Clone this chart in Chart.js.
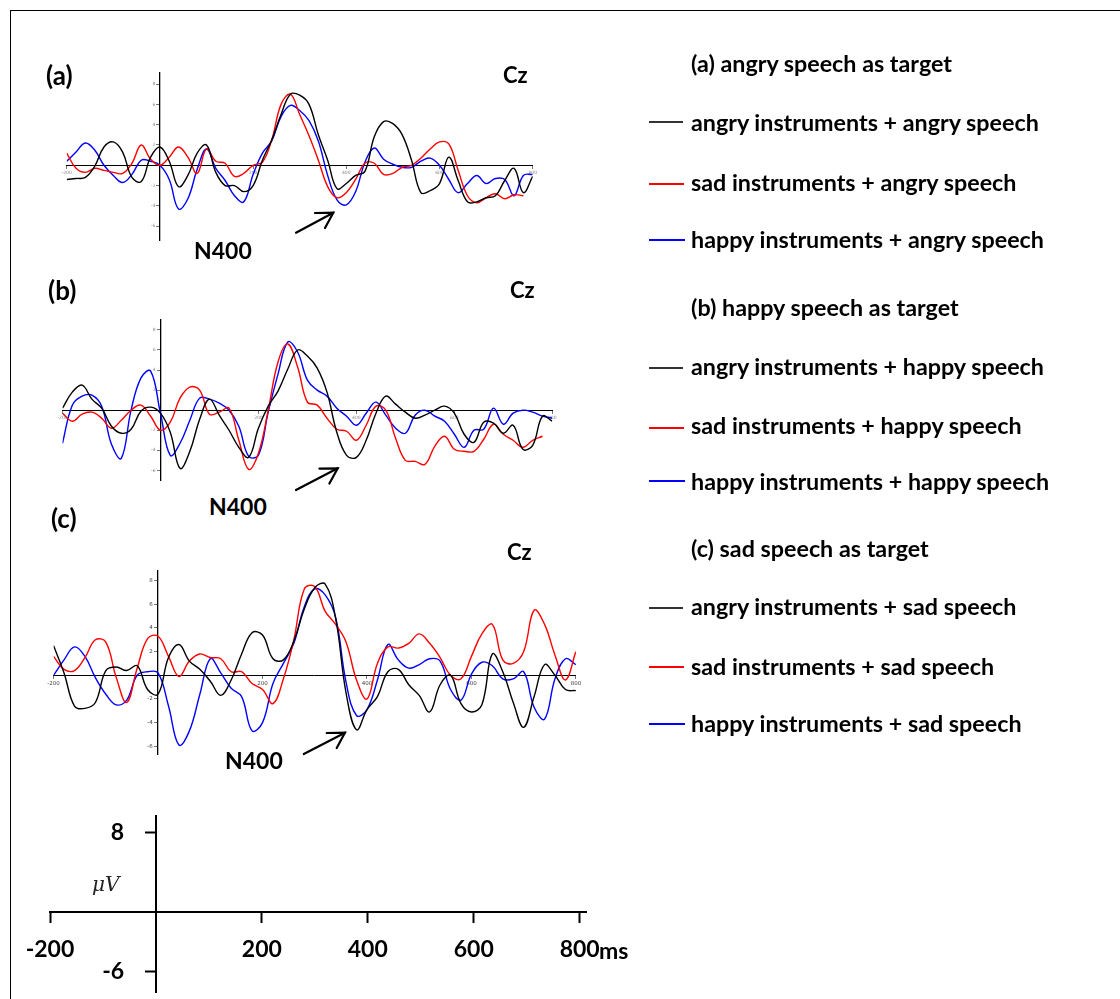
<!DOCTYPE html>
<html>
<head>
<meta charset="utf-8">
<script src="https://cdn.jsdelivr.net/npm/chart.js@4.4.1/dist/chart.umd.min.js"></script>
<style>
  html, body { margin: 0; padding: 0; background: #fff; }
  body { width: 1120px; height: 999px; position: relative; overflow: hidden;
         font-family: Lato, "Open Sans", sans-serif; font-weight: bold; color: #000; }
  .frame { position: absolute; left: 10px; top: 10px; width: 1200px; height: 1100px;
           border-left: 1.5px solid #000; border-top: 1.5px solid #000; }
  canvas { position: absolute; left: 0; }
  .t { position: absolute; white-space: nowrap; line-height: 1; transform: translateY(-50%); }
  .sw { position: absolute; height: 2px; }
  svg { position: absolute; left: 0; top: 0; }
</style>
</head>
<body>
<div class="frame"></div>
<canvas id="panelA" width="600" height="190" style="top:60px"></canvas>
<canvas id="panelB" width="600" height="180" style="top:310px"></canvas>
<canvas id="panelC" width="600" height="205" style="top:560px"></canvas>
<canvas id="scaleBar" width="600" height="199" style="top:800px"></canvas>

<div class="t" style="left:46px;top:75px;font-size:26px">(a)</div>
<div class="t" style="left:48px;top:290px;font-size:26px">(b)</div>
<div class="t" style="left:51px;top:518px;font-size:26px">(c)</div>
<div class="t" style="left:503px;top:75px;font-size:22px">Cz</div>
<div class="t" style="left:510px;top:290px;font-size:22px">Cz</div>
<div class="t" style="left:507px;top:552px;font-size:22px">Cz</div>
<div class="t" style="left:194px;top:250px;font-size:23px">N400</div>
<div class="t" style="left:209px;top:506px;font-size:23px">N400</div>
<div class="t" style="left:225px;top:760px;font-size:23px">N400</div>
<div class="t" style="left:92px;top:884px;font-size:20px;font-family:'DejaVu Serif',serif;font-style:italic;font-weight:normal;color:#222">&mu;V</div>
<div class="t" style="left:599px;top:950px;font-size:23px">ms</div>

<svg width="1120" height="999">
  <g stroke="#000" stroke-width="2.2" fill="none" stroke-linecap="round">
    <line x1="296" y1="232.7" x2="333.3" y2="212.7"/>
    <polyline points="315,213 333.3,212.7 325,228"/>
    <line x1="296" y1="490" x2="337.7" y2="468.3"/>
    <polyline points="319.4,468.6 337.7,468.3 329.4,483.6"/>
    <line x1="303.8" y1="754" x2="345" y2="732.7"/>
    <polyline points="326.7,733 345,732.7 336.7,748"/>
  </g>
</svg>

<div id="legend"></div>

<script>
// time axis (ms), one sample every 20 ms
var times = [-200,-180,-160,-140,-120,-100,-80,-60,-40,-20,0,20,40,60,80,100,120,140,160,180,
             200,220,240,260,280,300,320,340,360,380,400,420,440,460,480,500,520,540,560,580,
             600,620,640,660,680,700,720,740,760,780,800];

var xTicks = [-200, 200, 400, 600, 800];
var yTicks = [-6, -4, -2, 2, 4, 6, 8];
var scaleXTicks = [-200, 200, 400, 600, 800];
var scaleYTicks = [-6, 8];

// (a) angry speech as target (uV)
var angryA = [-1.4,-1.3,-1.2,-0.1,1.8,2.3,1.3,-1.2,-1.6,0.8,1.8,0.4,-2.1,-1.0,1.2,2.0,-0.7,-2.0,-2.0,-2.6,
              -2.0,0.5,2.5,5.0,7.0,6.9,6.0,3.0,0.5,-2.3,-1.8,-1.0,-0.6,2.8,4.3,4.1,3.0,0.5,-2.7,-2.5,
              -1.8,0.8,-1.5,-3.6,-3.6,-3.2,-3.0,-1.5,-0.3,-2.7,-1.1];
var sadA   = [1.2,-0.3,-0.7,-0.3,-0.5,-0.7,-0.8,0.2,2.0,0.6,0.0,0.8,1.8,0.8,-0.8,1.6,0.4,0.2,-1.1,-0.8,
              0.0,0.3,2.5,6.0,7.0,5.0,2.9,0.5,-2.1,-3.2,-2.7,-1.4,0.2,0.2,-0.9,-0.8,-0.2,0.0,0.7,1.6,
              2.3,2.1,-0.5,-3.0,-3.7,-3.2,-2.8,-3.3,-2.9,-3.0,null];
var happyA = [0.4,1.3,2.2,1.5,0.0,-1.0,-1.7,-0.9,0.5,0.4,0.0,-1.4,-4.3,-3.3,-0.4,1.6,-0.3,-1.5,-3.0,-3.6,
              -0.9,1.2,2.4,4.8,5.9,5.4,4.4,2.4,-1.0,-3.4,-3.9,-2.6,0.3,1.7,0.6,0.1,-0.2,-0.2,0.4,0.7,
              0.0,-1.4,-2.7,-1.8,-1.0,-1.8,-1.3,-1.4,-3.0,-1.0,-0.9];

// (b) happy speech as target
var angryB = [0.2,1.8,2.5,1.1,0.2,-1.6,-2.3,-1.9,-0.1,0.3,-0.3,-2.2,-5.8,-4.1,-0.9,1.1,-0.5,-2.0,-3.7,-4.7,
              -1.8,0.4,1.9,4.1,6.0,5.4,4.2,1.8,-2.2,-4.5,-4.7,-3.0,-0.3,1.4,0.6,-0.2,-0.8,-0.5,0.0,0.4,
              -0.3,-2.4,-3.2,-1.2,-1.3,-2.3,-1.5,-3.9,-3.5,-0.6,-1.1];
var sadB   = [-0.3,-1.1,-0.4,-0.2,-0.8,-1.8,-1.0,0.0,0.5,-0.6,-2.0,-1.2,1.2,2.3,2.0,-0.4,-0.2,0.2,-3.0,-5.9,
              -4.3,0.0,4.8,6.6,4.3,0.8,0.5,-0.8,-1.9,-2.1,-3.0,-1.5,0.4,0.0,-2.8,-5.0,-5.1,-5.4,-3.6,-2.6,
              -3.9,-4.1,-4.1,-2.9,-1.4,-2.4,-3.0,-3.7,-3.0,-2.6,null];
var happyB = [-3.3,0.5,1.4,1.5,0.4,-3.4,-4.8,0.0,3.2,3.9,-0.3,-4.5,-3.3,-1.0,1.2,1.1,0.7,0.0,-1.6,-4.6,
              -4.5,-0.2,3.6,6.8,5.8,3.0,2.0,1.4,0.2,-0.6,-1.5,-0.3,0.8,-0.5,-1.8,-2.3,-0.5,0.0,-0.6,-1.1,
              -2.4,-3.7,-2.0,-1.9,0.2,-1.4,-0.3,0.0,-0.2,-0.6,-0.8];

// (c) sad speech as target
var angryC = [2.5,0.2,-2.6,-2.8,-2.3,0.4,0.7,0.4,0.8,-1.2,-1.6,1.5,2.6,1.2,0.5,-0.5,-1.7,-0.4,1.8,3.6,
              3.4,1.4,1.3,2.9,5.6,7.4,7.7,4.8,-1.5,-4.6,-2.9,-1.8,0.3,0.5,-0.8,-1.7,-3.1,-0.8,0.0,-2.4,
              -3.1,-2.5,1.8,0.3,-2.3,-4.4,-1.8,0.9,0.0,-1.2,-1.3];
var sadC   = [1.6,0.5,0.4,1.5,3.0,2.8,-0.2,-2.3,0.6,3.1,3.3,1.6,-0.1,1.2,1.8,1.5,1.4,0.3,0.3,-0.7,
              -1.2,-2.4,-0.3,3.0,7.3,7.5,5.4,4.3,2.8,-0.4,-2.0,1.0,2.4,2.3,2.7,3.5,2.7,1.5,0.0,-0.3,
              1.6,3.5,4.3,1.3,1.0,2.0,5.5,4.3,1.7,-0.4,2.0];
var happyC = [0.0,1.3,2.4,1.6,-0.2,-1.6,-2.5,-2.1,0.0,0.3,0.2,-2.6,-5.9,-4.7,-1.6,1.4,0.2,-1.1,-1.8,-4.7,
              -4.0,-0.7,1.0,2.7,5.8,7.3,6.8,4.9,-0.6,-3.4,-2.9,-0.4,2.6,1.3,0.6,0.9,1.4,1.2,-1.2,-2.1,
              0.1,1.1,0.8,-0.3,-0.3,0.3,-2.7,-3.7,-0.3,1.4,0.9];

var legendA = ['(a) angry speech as target', 'angry instruments + angry speech', 'sad instruments + angry speech', 'happy instruments + angry speech'];
var legendB = ['(b) happy speech as target', 'angry instruments + happy speech', 'sad instruments + happy speech', 'happy instruments + happy speech'];
var legendC = ['(c) sad speech as target', 'angry instruments + sad speech', 'sad instruments + sad speech', 'happy instruments + sad speech'];

var lineColors = ['#000000', '#ff0000', '#0000ff'];
var swatchColors = ['#333333', '#ff0000', '#0000ff'];

function tickList(vals) {
    return function(scale) {
        scale.ticks = vals.map(function(v) { return { value: v }; });
    };
}

// axes sit inside the plot, so they must not eat layout space
function noSpaceX(s) { s.height = 0; s.paddingLeft = 0; s.paddingRight = 0; s.paddingTop = 0; s.paddingBottom = 0; }
function noSpaceY(s) { s.width = 0; s.paddingLeft = 0; s.paddingRight = 0; s.paddingTop = 0; s.paddingBottom = 0; }

function makePanel(id, top, height, area, yMin, yMax, series, tickSize, tickColor) {
    var datasets = [];
    for (var i = 0; i < series.length; i++) {
        datasets.push({
            data: series[i],
            borderColor: lineColors[i],
            borderWidth: 1.4,
            pointRadius: 0,
            tension: 0.4,
            fill: false,
            xAxisID: 'x',
            yAxisID: 'y'
        });
    }
    var tickFont = { size: tickSize, family: 'DejaVu Sans' };
    return new Chart(document.getElementById(id), {
        type: 'line',
        data: { labels: times, datasets: datasets },
        options: {
            responsive: false,
            animation: false,
            devicePixelRatio: 1,
            layout: { padding: { left: area.left, right: 600 - area.right, top: area.top - top, bottom: top + height - area.bottom } },
            plugins: { legend: { display: false }, tooltip: { enabled: false } },
            scales: {
                x: {
                    type: 'linear', axis: 'x', min: -200, max: 800, position: { y: 0 },
                    afterFit: noSpaceX,
                    afterBuildTicks: tickList(xTicks),
                    border: { color: '#000', width: 1 },
                    grid: { drawOnChartArea: false, tickLength: 3, color: '#777' },
                    ticks: { font: tickFont, color: tickColor, padding: 2, maxRotation: 0, autoSkip: false }
                },
                y: {
                    type: 'linear', axis: 'y', min: yMin, max: yMax, position: { x: 0 },
                    afterFit: noSpaceY,
                    afterBuildTicks: tickList(yTicks),
                    border: { color: '#000', width: 1.3 },
                    grid: { drawOnChartArea: false, tickLength: 3, color: '#777' },
                    ticks: { display: false }
                },
                yl: {
                    type: 'linear', axis: 'y', min: yMin, max: yMax, position: { x: -10 },
                    afterFit: noSpaceY,
                    afterBuildTicks: tickList(yTicks),
                    border: { display: false },
                    grid: { display: false },
                    ticks: { font: tickFont, color: tickColor }
                }
            }
        }
    });
}

makePanel('panelA', 60, 190, { left: 66.7, right: 532.7, top: 72.7, bottom: 240.7 }, -7.43, 9.12,
          [angryA, sadA, happyA], 4.5, '#888');
makePanel('panelB', 310, 180, { left: 62.5, right: 552.3, top: 320, bottom: 480.7 }, -7.03, 8.99,
          [angryB, sadB, happyB], 4.5, '#888');
makePanel('panelC', 560, 205, { left: 53.6, right: 575.9, top: 570.7, bottom: 754.3 }, -6.68, 8.84,
          [angryC, sadC, happyC], 5.5, '#444');

// scale bar at the bottom
var barFont = { size: 23, family: 'Lato', weight: 'bold' };
new Chart(document.getElementById('scaleBar'), {
    type: 'line',
    data: { labels: [], datasets: [] },
    options: {
        responsive: false,
        animation: false,
        devicePixelRatio: 1,
        layout: { padding: { left: 50, right: 14, top: 16, bottom: 7 } },
        plugins: { legend: { display: false }, tooltip: { enabled: false } },
        scales: {
            x: {
                type: 'linear', axis: 'x', min: -200, max: 812, position: { y: 0 },
                afterFit: noSpaceX,
                afterBuildTicks: tickList(scaleXTicks),
                border: { color: '#000', width: 2 },
                grid: { drawOnChartArea: false, tickLength: 10, tickWidth: 2, tickColor: '#000' },
                ticks: { font: barFont, color: '#000', padding: 14, maxRotation: 0, autoSkip: false }
            },
            y: {
                type: 'linear', axis: 'y', min: -8.06, max: 9.67, position: { x: 0 },
                afterFit: noSpaceY,
                afterBuildTicks: tickList(scaleYTicks),
                border: { color: '#000', width: 2 },
                grid: { drawOnChartArea: false, tickLength: 10, tickWidth: 2, tickColor: '#000' },
                ticks: { display: false }
            },
            yl: {
                type: 'linear', axis: 'y', min: -8.06, max: 9.67, position: { x: -60 },
                afterFit: noSpaceY,
                afterBuildTicks: tickList(scaleYTicks),
                border: { display: false },
                grid: { display: false },
                ticks: { font: barFont, color: '#000' }
            }
        }
    }
});

// legend on the right
function addLegend(names, titleY, rowYs, swatchYs) {
    var box = document.getElementById('legend');
    var html = '<div class="t" style="left:691px;top:' + titleY + 'px;font-size:23.3px">' + names[0] + '</div>';
    for (var i = 0; i < 3; i++) {
        html += '<div class="sw" style="left:649px;width:' + (34 + i) + 'px;top:' + swatchYs[i] + 'px;background:' + swatchColors[i] + '"></div>';
        html += '<div class="t" style="left:691px;top:' + rowYs[i] + 'px;font-size:23.3px">' + names[i + 1] + '</div>';
    }
    box.innerHTML += html;
}
addLegend(legendA, 64, [123.3, 182.7, 240], [121, 183, 239]);
addLegend(legendB, 308, [367.3, 425.7, 481.7], [367, 427, 480]);
addLegend(legendC, 549.3, [607.3, 666.7, 724], [607, 666, 723]);
</script>
</body>
</html>
